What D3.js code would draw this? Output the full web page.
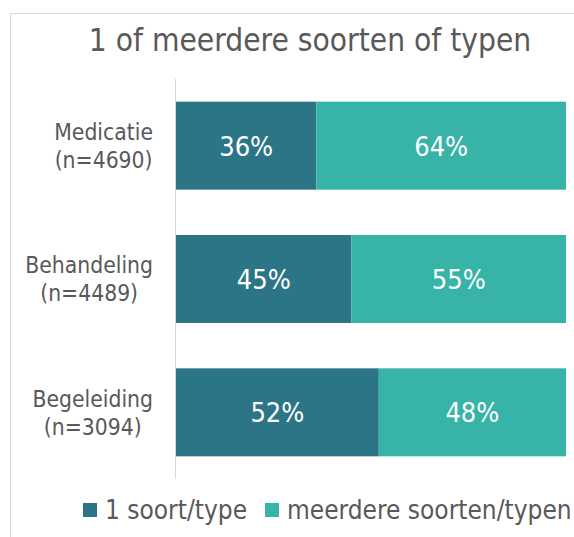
<!DOCTYPE html>
<html>
<head>
<meta charset="utf-8">
<script src="https://cdn.jsdelivr.net/npm/d3@7"></script>
<style>
  body { margin: 0; background: #fff; }
  text { font-family: "DejaVu Sans Condensed", "DejaVu Sans", sans-serif; font-stretch: condensed; }
</style>
</head>
<body>
<div id="chart"></div>
<script>
const categories = ["Medicatie", "Behandeling", "Begeleiding"]
const counts = ["(n=4690)", "(n=4489)", "(n=3094)"]
const seriesNames = ["1 soort/type", "meerdere soorten/typen"]
const oneType = [36, 45, 52]
const moreTypes = [64, 55, 48]
const title = "1 of meerdere soorten of typen"

const width = 574
const height = 537
const colors = ["#2c7587", "#38b3a8"]

const svg = d3.select("#chart")
  .append("svg")
  .attr("width", width)
  .attr("height", height)

// chart area border (runs off the right/bottom edge like the reference)
svg.append("rect")
  .attr("x", 10.5)
  .attr("y", 13.5)
  .attr("width", 600)
  .attr("height", 600)
  .attr("fill", "none")
  .attr("stroke", "#d9d9d9")

svg.append("text")
  .attr("x", 310)
  .attr("y", 51)
  .attr("text-anchor", "middle")
  .attr("font-size", 31.4)
  .attr("fill", "#595959")
  .text(title)

const rows = categories.map((c, i) => ({
  name: c, n: counts[i], a: oneType[i], b: moreTypes[i]
}))

const x = d3.scaleLinear().domain([0, 100]).range([176, 566])
const y = d3.scaleBand().domain(categories).range([79, 479]).paddingInner(0.34).paddingOuter(0.17)

const stack = d3.stack().keys(["a", "b"])(rows)

const groups = svg.selectAll("g.series")
  .data(stack)
  .enter()
  .append("g")
  .attr("class", "series")
  .attr("fill", (d, i) => colors[i])

groups.selectAll("rect")
  .data(d => d)
  .enter()
  .append("rect")
  .attr("x", d => x(d[0]))
  .attr("y", d => y(d.data.name))
  .attr("width", d => x(d[1]) - x(d[0]))
  .attr("height", y.bandwidth())

groups.selectAll("text")
  .data(d => d)
  .enter()
  .append("text")
  .attr("x", d => (x(d[0]) + x(d[1])) / 2)
  .attr("y", d => y(d.data.name) + y.bandwidth() / 2)
  .attr("dy", "0.37em")
  .attr("text-anchor", "middle")
  .attr("font-size", 27)
  .attr("fill", "#fff")
  .text(d => (d[1] - d[0]) + "%")

// category axis
svg.append("line")
  .attr("x1", 175.5).attr("x2", 175.5)
  .attr("y1", 79).attr("y2", 479)
  .attr("stroke", "#d9d9d9")

// wrapped labels: lines centred on each other, block right-aligned to the axis
const labelRight = 153
const labels = svg.selectAll("text.cat")
  .data(rows)
  .enter()
  .append("text")
  .attr("class", "cat")
  .attr("text-anchor", "middle")
  .attr("font-size", 22.7)
  .attr("fill", "#595959")

labels.append("tspan")
  .attr("class", "l1")
  .attr("y", d => y(d.name) + y.bandwidth() / 2 - 14)
  .attr("dy", "0.36em")
  .text(d => d.name)

labels.append("tspan")
  .attr("class", "l2")
  .attr("y", d => y(d.name) + y.bandwidth() / 2 + 14)
  .attr("dy", "0.36em")
  .text(d => d.n)

labels.each(function () {
  const spans = d3.select(this).selectAll("tspan")
  const w = d3.max(spans.nodes(), n => n.getComputedTextLength())
  spans.attr("x", labelRight - w / 2)
})

// legend
const legendX = [83, 265]
const legend = svg.selectAll("g.legend")
  .data(seriesNames)
  .enter()
  .append("g")
  .attr("class", "legend")
  .attr("transform", (d, i) => `translate(${legendX[i]},503)`)

legend.append("rect")
  .attr("width", 14)
  .attr("height", 14)
  .attr("fill", (d, i) => colors[i])

legend.append("text")
  .attr("x", 22)
  .attr("y", 7)
  .attr("dy", "0.36em")
  .attr("font-size", 26)
  .attr("fill", "#595959")
  .text(d => d)
</script>
</body>
</html>
